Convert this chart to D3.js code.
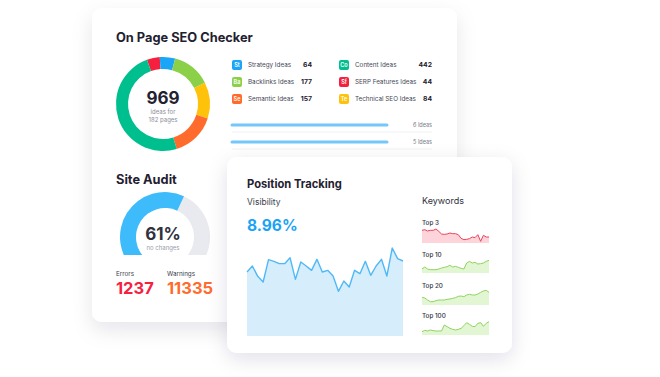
<!DOCTYPE html>
<html>
<head>
<meta charset="utf-8">
<script src="https://cdn.jsdelivr.net/npm/d3@7"></script>
<style>
  html,body{margin:0;padding:0;background:#fff;}
  svg{display:block;font-family:Inter,"Noto Sans",sans-serif;}
</style>
</head>
<body>
<svg id="chart" width="660" height="377"></svg>
<script>
// ---------- DATA ----------
const ideaCategories = ["Strategy Ideas","Backlinks Ideas","Semantic Ideas","Content Ideas","SERP Features Ideas","Technical SEO Ideas"];
const ideaAbbr = ["St","Ba","Se","Co","Sf","Te"];
const ideaCounts = [64,177,157,442,44,84];
const ideaColors = ["#1aa5f7","#8cd04a","#ff6b2c","#00bf8f","#f5203e","#ffc20a"];
const ideasTotal = 969;
const ideasPages = 182;
// donut slice order (clockwise from top-left) and shares
const donutOrder = ["SERP Features Ideas","Strategy Ideas","Backlinks Ideas","Technical SEO Ideas","Semantic Ideas","Content Ideas"];
const donutShares = [16,19,48,45,55,177];
const ideaBarLabels = ["6 Ideas","5 Ideas"];
const ideaBarFill = [100,100];
const auditScore = 61;
const auditErrors = 1237;
const auditWarnings = 11335;
const visibility = 8.96;
const visibilitySeries = [192,210,179,162,229,224,217,217,235,170,222,210,197,230,192,197,180,134,165,147,197,187,224,182,210,230,180,264,232,225];
const keywordGroups = ["Top 3","Top 10","Top 20","Top 100"];
const top3Series   = [38,40,36,38,38,42,35,27,26,27,30,28,28,25,14,10,11,13,18,16,25,5,23,18,18];
const top10Series  = [12,18,12,10,10,10,12,15,17,19,23,18,20,17,14,12,30,35,30,32,27,28,30,35,38];
const top20Series  = [23,21,15,10,10,13,15,15,15,17,18,20,22,26,27,25,30,32,30,30,33,38,42,44,38];
const top100Series = [10,14,12,15,13,12,12,12,30,25,20,17,15,17,20,28,37,32,26,25,35,37,26,35,40];

// ---------- DRAW ----------
const svg = d3.select("#chart");
const defs = svg.append("defs");
const f = defs.append("filter").attr("id","shadow").attr("x","-20%").attr("y","-20%").attr("width","140%").attr("height","150%");
f.append("feDropShadow").attr("dx",0).attr("dy",8).attr("stdDeviation",10).attr("flood-color","#1e2340").attr("flood-opacity",0.10);

// Card 1
svg.append("rect").attr("x",92).attr("y",8).attr("width",365).attr("height",314).attr("rx",10)
  .attr("fill","#fff").attr("filter","url(#shadow)");

const dark = "#1f2130";
svg.append("text").attr("x",116).attr("y",42).text("On Page SEO Checker")
  .attr("font-size",12.8).attr("font-weight",700).attr("fill",dark);

// Donut
const dcx = 163, dcy = 104;
const pie = d3.pie().sort(null).value(d => d)
  .startAngle(-20*Math.PI/180).endAngle(340*Math.PI/180);
const arcD = d3.arc().innerRadius(35).outerRadius(47);
const dg = svg.append("g").attr("transform",`translate(${dcx},${dcy})`);
dg.selectAll("path").data(pie(donutShares)).join("path")
  .attr("d",arcD)
  .attr("fill",(d,i)=>ideaColors[ideaCategories.indexOf(donutOrder[i])]);
dg.append("text").attr("y",0).attr("text-anchor","middle").text(ideasTotal)
  .attr("font-size",17).attr("font-weight",700).attr("fill",dark);
dg.append("text").attr("y",10).attr("text-anchor","middle").text("ideas for")
  .attr("font-size",6).attr("fill","#8a8d99");
dg.append("text").attr("y",18).attr("text-anchor","middle").text(`${ideasPages} pages`)
  .attr("font-size",6).attr("fill","#8a8d99");

// Legend
const colX = [232,339], valX = [312,432], rowY = [65,82,99];
const lg = svg.append("g");
ideaCategories.forEach((c,i)=>{
  const col = Math.floor(i/3), row = i%3;
  const g = lg.append("g").attr("transform",`translate(${colX[col]},${rowY[row]})`);
  g.append("rect").attr("x",0).attr("y",-5).attr("width",10).attr("height",10).attr("rx",2).attr("fill",ideaColors[i]);
  g.append("text").attr("x",5).attr("y",2.2).attr("text-anchor","middle").text(ideaAbbr[i])
    .attr("font-size",5.5).attr("font-weight",600).attr("fill","#fff");
  g.append("text").attr("x",16).attr("y",2.3).text(c).attr("font-size",6.3).attr("fill","#454855");
  lg.append("text").attr("x",valX[col]).attr("y",rowY[row]+2.3).attr("text-anchor","end").text(ideaCounts[i])
    .attr("font-size",6.8).attr("font-weight",700).attr("fill",dark);
});

// Idea bars
const barScale = d3.scaleLinear().domain([0,100]).range([0,155]);
ideaBarLabels.forEach((l,i)=>{
  const y = 125 + i*17;
  svg.append("line").attr("x1",232).attr("x2",232+barScale(ideaBarFill[i])).attr("y1",y).attr("y2",y)
    .attr("stroke","#74c6fb").attr("stroke-width",3).attr("stroke-linecap","round");
  svg.append("text").attr("x",432).attr("y",y+2).attr("text-anchor","end").text(l)
    .attr("font-size",5.5).attr("fill","#777a86");
  svg.append("line").attr("x1",232).attr("x2",432).attr("y1",y+7).attr("y2",y+7)
    .attr("stroke","#eeeff2").attr("stroke-width",0.8);
});

// Site audit
svg.append("text").attr("x",116).attr("y",184).text("Site Audit")
  .attr("font-size",12.8).attr("font-weight",700).attr("fill",dark);
const gcx = 165, gcy = 237;
const visSpan = 113.6;
const gaugeAngle = d3.scaleLinear().domain([0,100]).range([-visSpan,visSpan]);
const toRad = a => a*Math.PI/180;
const gArc = d3.arc().innerRadius(29).outerRadius(45);
defs.append("clipPath").attr("id","gclipT").append("rect").attr("x",-65).attr("y",-60).attr("width",130).attr("height",78);
const gg = svg.append("g").attr("transform",`translate(${gcx},${gcy})`).attr("clip-path","url(#gclipT)");
gg.append("path").attr("d",gArc({startAngle:toRad(gaugeAngle(auditScore)),endAngle:toRad(140)})).attr("fill","#e8eaef");
gg.append("path").attr("d",gArc({startAngle:toRad(-140),endAngle:toRad(gaugeAngle(auditScore))})).attr("fill","#3dbbfb");
svg.append("text").attr("x",163).attr("y",240).attr("text-anchor","middle").text(auditScore+"%")
  .attr("font-size",17).attr("font-weight",700).attr("fill","#2f323e");
svg.append("text").attr("x",163).attr("y",250).attr("text-anchor","middle").text("no changes")
  .attr("font-size",6).attr("fill","#9a9da8");
svg.append("text").attr("x",116).attr("y",276).text("Errors").attr("font-size",6.3).attr("fill","#3a3d4a");
svg.append("text").attr("x",167).attr("y",276).text("Warnings").attr("font-size",6.3).attr("fill","#3a3d4a");
svg.append("text").attr("x",116).attr("y",294).text(auditErrors)
  .attr("font-size",16.5).attr("font-weight",700).attr("fill","#f5213f");
svg.append("text").attr("x",167).attr("y",294).text(auditWarnings)
  .attr("font-size",16.5).attr("font-weight",700).attr("fill","#ff6a2d");

// Card 2
const f2 = defs.append("filter").attr("id","shadow2").attr("x","-20%").attr("y","-20%").attr("width","140%").attr("height","150%");
f2.append("feDropShadow").attr("dx",0).attr("dy",6).attr("stdDeviation",10).attr("flood-color","#1e2340").attr("flood-opacity",0.12);
svg.append("rect").attr("x",227).attr("y",157).attr("width",285).attr("height",196).attr("rx",10)
  .attr("fill","#fff").attr("filter","url(#shadow2)");
svg.append("text").attr("x",247).attr("y",188).text("Position Tracking")
  .attr("font-size",11.2).attr("font-weight",700).attr("fill",dark);
svg.append("text").attr("x",247).attr("y",205).text("Visibility")
  .attr("font-size",8.5).attr("fill","#3a3d4a");
svg.append("text").attr("x",247).attr("y",231).text(visibility.toFixed(2)+"%")
  .attr("font-size",15.5).attr("font-weight",700).attr("fill","#1aa3f5");

// main area chart
const vx = d3.scaleLinear().domain([0,visibilitySeries.length-1]).range([247,403]);
const vy = d3.scaleLinear().domain([0,300]).range([336,236]);
svg.append("path").datum(visibilitySeries)
  .attr("d",d3.area().x((d,i)=>vx(i)).y0(vy(0)).y1(d=>vy(d)))
  .attr("fill","#d6edfc");
svg.append("path").datum(visibilitySeries)
  .attr("d",d3.line().x((d,i)=>vx(i)).y(d=>vy(d)))
  .attr("fill","none").attr("stroke","#4fb9f7").attr("stroke-width",1.4).attr("stroke-linejoin","round");

// keywords
svg.append("text").attr("x",422).attr("y",204).text("Keywords")
  .attr("font-size",9).attr("fill","#2f323e");
const kwSeries = [top3Series, top10Series, top20Series, top100Series];
const kwLabelY = [225,257,288,318];
const kwBottom = [243,273,305,335];
const kwLine = ["#f0405a","#8fd460","#8fd460","#8fd460"];
const kwFill = ["#fdd4da","#e2f6d3","#e2f6d3","#e2f6d3"];
keywordGroups.forEach((k,j)=>{
  svg.append("text").attr("x",422).attr("y",kwLabelY[j]).text(k)
    .attr("font-size",6.3).attr("font-weight",500).attr("fill","#2f323e");
  const s = kwSeries[j];
  const kx = d3.scaleLinear().domain([0,s.length-1]).range([422,489]);
  const ky = d3.scaleLinear().domain([0,60]).range([kwBottom[j],kwBottom[j]-20]);
  svg.append("path").datum(s).attr("d",d3.area().x((d,i)=>kx(i)).y0(ky(0)).y1(d=>ky(d))).attr("fill",kwFill[j]);
  svg.append("path").datum(s).attr("d",d3.line().x((d,i)=>kx(i)).y(d=>ky(d)))
    .attr("fill","none").attr("stroke",kwLine[j]).attr("stroke-width",1).attr("stroke-linejoin","round");
});
</script>
</body>
</html>
